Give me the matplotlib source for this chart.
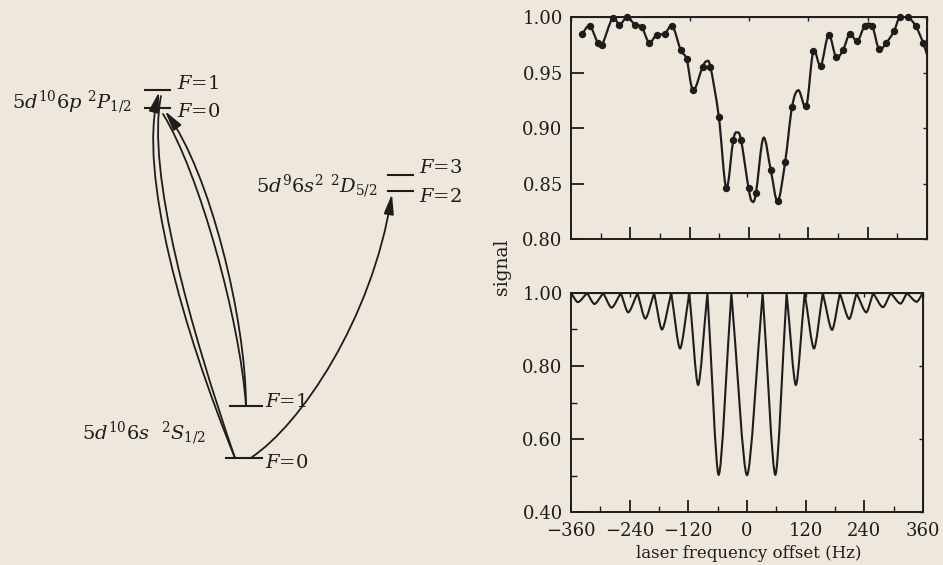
import numpy as np
import matplotlib.pyplot as plt
from matplotlib.path import Path
from matplotlib.patches import PathPatch, FancyArrowPatch
from matplotlib.ticker import MultipleLocator, FormatStrFormatter

plt.rcParams['font.family'] = ['DejaVu Serif']
plt.rcParams['mathtext.fontset'] = 'dejavuserif'

ink = '#211c1c'
paper = '#ede7dc'

# measured signal (top panel), Hz / normalized signal
meas_f = [-337, -322, -306, -297, -276, -262, -246, -231, -217, -202, -187, -170,
          -155, -138, -126, -113, -94, -78, -61, -46, -32, -16, -1, 14, 44, 58,
          73, 87, 116, 130, 145, 161, 176, 190, 204, 219, 234, 249, 263, 278,
          293, 305, 321, 337, 352]
meas_s = [0.985, 0.992, 0.977, 0.975, 0.999, 0.993, 1.000, 0.993, 0.991, 0.977,
          0.984, 0.985, 0.992, 0.970, 0.962, 0.934, 0.955, 0.955, 0.910, 0.846,
          0.889, 0.889, 0.846, 0.841, 0.862, 0.834, 0.869, 0.919, 0.920, 0.969,
          0.956, 0.984, 0.964, 0.970, 0.985, 0.978, 0.992, 0.992, 0.971, 0.977,
          0.987, 1.000, 1.000, 0.992, 0.977]
# turning points of the drawn line that fall between the dots
turn_f = [-86, -24, 6, 29, 100, 360]
turn_s = [0.960, 0.896, 0.834, 0.891, 0.934, 0.966]

# calculated line shape (bottom panel)
peak_f = [-360, -327, -294, -258, -224, -190, -155, -118, -81, -32,
          32, 81, 118, 155, 190, 224, 258, 294, 327, 360]
dip_f = [-346, -312, -277, -243, -208, -174, -137, -100, -58, 0,
         58, 100, 137, 174, 209, 244, 278, 314, 347]
dip_s = [0.975, 0.970, 0.960, 0.947, 0.930, 0.900, 0.848, 0.748, 0.502, 0.501,
         0.502, 0.748, 0.848, 0.899, 0.929, 0.947, 0.961, 0.971, 0.976]

# level diagram (drawn in figure pixel units)
p_levels_y = [90, 108]
p_levels_x = [145, 170]
s_levels_y = [406, 458]
s_levels_x = [[230, 262], [226, 262]]
d_levels_y = [175, 191]
d_levels_x = [388, 413]


def smooth_path(x, y):
    pts = np.column_stack([x, y]).astype(float)
    n = len(pts)
    verts = [pts[0]]
    codes = [Path.MOVETO]
    for i in range(n - 1):
        p0 = pts[max(i - 1, 0)]
        p1 = pts[i]
        p2 = pts[i + 1]
        p3 = pts[min(i + 2, n - 1)]
        verts += [p1 + (p2 - p0) / 6, p2 - (p3 - p1) / 6, p2]
        codes += [Path.CURVE4] * 3
    return Path(verts, codes)


def fringe_path(peaks, dips, depth):
    # straight-ish flanks from the cusp, rounded floor at each dip
    verts = [(peaks[0], 1.0)]
    codes = [Path.MOVETO]
    for i, (xd, d) in enumerate(zip(dips, depth)):
        xa, xb = peaks[i], peaks[i + 1]
        h = 1.0 - d
        dx = xd - xa
        verts += [(xa + dx / 3, 1 - h / 3), (xd - 0.25 * dx, d), (xd, d)]
        dx = xb - xd
        verts += [(xd + 0.25 * dx, d), (xb - dx / 3, 1 - h / 3), (xb, 1.0)]
        codes += [Path.CURVE4] * 6
    return Path(verts, codes)


def style_axis(ax):
    for sp in ax.spines.values():
        sp.set_linewidth(1.4)
        sp.set_color(ink)
    ax.set_facecolor('none')
    ax.tick_params(which='major', direction='in', length=9, width=1.3,
                   colors=ink, labelsize=13, pad=6)
    ax.tick_params(which='minor', direction='in', length=4, width=1.0, colors=ink)
    sx = ax.secondary_xaxis('top')
    sx.set_xticks(ax.get_xticks())
    sx.tick_params(direction='in', length=3, width=1.0, colors=ink)
    sx.set_xticklabels([])
    sy = ax.secondary_yaxis('right')
    sy.set_yticks(ax.get_yticks())
    sy.tick_params(direction='in', length=3, width=1.0, colors=ink)
    sy.set_yticklabels([])


fig = plt.figure(figsize=(9.43, 5.65), dpi=100, facecolor=paper)

# ---- energy level diagram ----
ax0 = fig.add_axes([0, 0, 1, 1])
ax0.set_xlim(0, 943)
ax0.set_ylim(565, 0)
ax0.axis('off')

for y in p_levels_y:
    ax0.plot(p_levels_x, [y, y], color=ink, lw=1.5)
for y, xs in zip(s_levels_y, s_levels_x):
    ax0.plot(xs, [y, y], color=ink, lw=1.5)
for y in d_levels_y:
    ax0.plot(d_levels_x, [y, y], color=ink, lw=1.5)

txt = dict(fontsize=14, color=ink, va='center')
ax0.text(132, 102, r'$5d^{10}6p\ ^{2}P_{1/2}$', ha='right', **txt)
ax0.text(206, 433, r'$5d^{10}6s\ \ ^{2}S_{1/2}$', ha='right', **txt)
ax0.text(378, 186, r'$5d^{9}6s^{2}\ ^{2}D_{5/2}$', ha='right', **txt)
ax0.text(177, 84, r'$F$=1', ha='left', **txt)
ax0.text(177, 112, r'$F$=0', ha='left', **txt)
ax0.text(265, 402, r'$F$=1', ha='left', **txt)
ax0.text(265, 463, r'$F$=0', ha='left', **txt)
ax0.text(419, 168, r'$F$=3', ha='left', **txt)
ax0.text(419, 197, r'$F$=2', ha='left', **txt)

head = '-|>,head_length=0.6,head_width=0.15'
curves = [
    # S F=0 -> P F=1 (pair)
    ([(235, 458), (183, 330), (138, 172), (159, 92)], head),
    ([(235, 458), (191, 330), (146, 172), (161, 96)], '-'),
    # S F=1 -> P F=0 (pair)
    ([(246, 406), (246, 320), (210, 172), (165, 111)], head),
    ([(246, 406), (240, 320), (199, 172), (163, 114)], '-'),
    # S F=0 -> D F=2
    ([(252, 457), (300, 425), (372, 320), (392, 194)], head),
]
for pts, style in curves:
    path = Path(pts, [Path.MOVETO] + [Path.CURVE4] * 3)
    ax0.add_patch(FancyArrowPatch(path=path, arrowstyle=style, mutation_scale=20,
                                  color=ink, lw=1.3))

# ---- measured spectrum ----
ax1 = fig.add_axes([571 / 943, 1 - 239 / 565, 356 / 943, 222 / 565])
ax1.set_xlim(-360, 360)
ax1.set_ylim(0.80, 1.00)
ax1.set_xticks(np.arange(-360, 361, 120))
ax1.set_yticks([0.80, 0.85, 0.90, 0.95, 1.00])
ax1.xaxis.set_minor_locator(MultipleLocator(60))
ax1.yaxis.set_major_formatter(FormatStrFormatter('%.2f'))
ax1.set_xticklabels([])
line_f = np.array(meas_f + turn_f)
line_s = np.array(meas_s + turn_s)
order = np.argsort(line_f)
ax1.add_patch(PathPatch(smooth_path(line_f[order], line_s[order]), fill=False,
                        lw=1.6, edgecolor=ink, clip_on=True))
ax1.plot(meas_f, meas_s, 'o', ms=4.3, color=ink, clip_on=False)
style_axis(ax1)

# ---- calculated spectrum ----
ax2 = fig.add_axes([571 / 943, 1 - 512 / 565, 352 / 943, 219 / 565])
ax2.set_xlim(-360, 360)
ax2.set_ylim(0.40, 1.00)
ax2.set_xticks(np.arange(-360, 361, 120))
ax2.set_yticks([0.40, 0.60, 0.80, 1.00])
ax2.xaxis.set_minor_locator(MultipleLocator(60))
ax2.yaxis.set_minor_locator(MultipleLocator(0.1))
ax2.yaxis.set_major_formatter(FormatStrFormatter('%.2f'))
ax2.add_patch(PathPatch(fringe_path(peak_f, dip_f, dip_s), fill=False,
                        lw=1.5, edgecolor=ink))
style_axis(ax2)
ax2.tick_params(axis='x', pad=7)

fig.text(502 / 943, 1 - 267 / 565, 'signal', rotation=90, ha='center',
         va='center', fontsize=13.5, color=ink)
fig.text(749 / 943, 1 - 554 / 565, 'laser frequency offset (Hz)', ha='center',
         va='center', fontsize=12, color=ink)

fig.savefig('out.png', dpi=100, facecolor=paper)
